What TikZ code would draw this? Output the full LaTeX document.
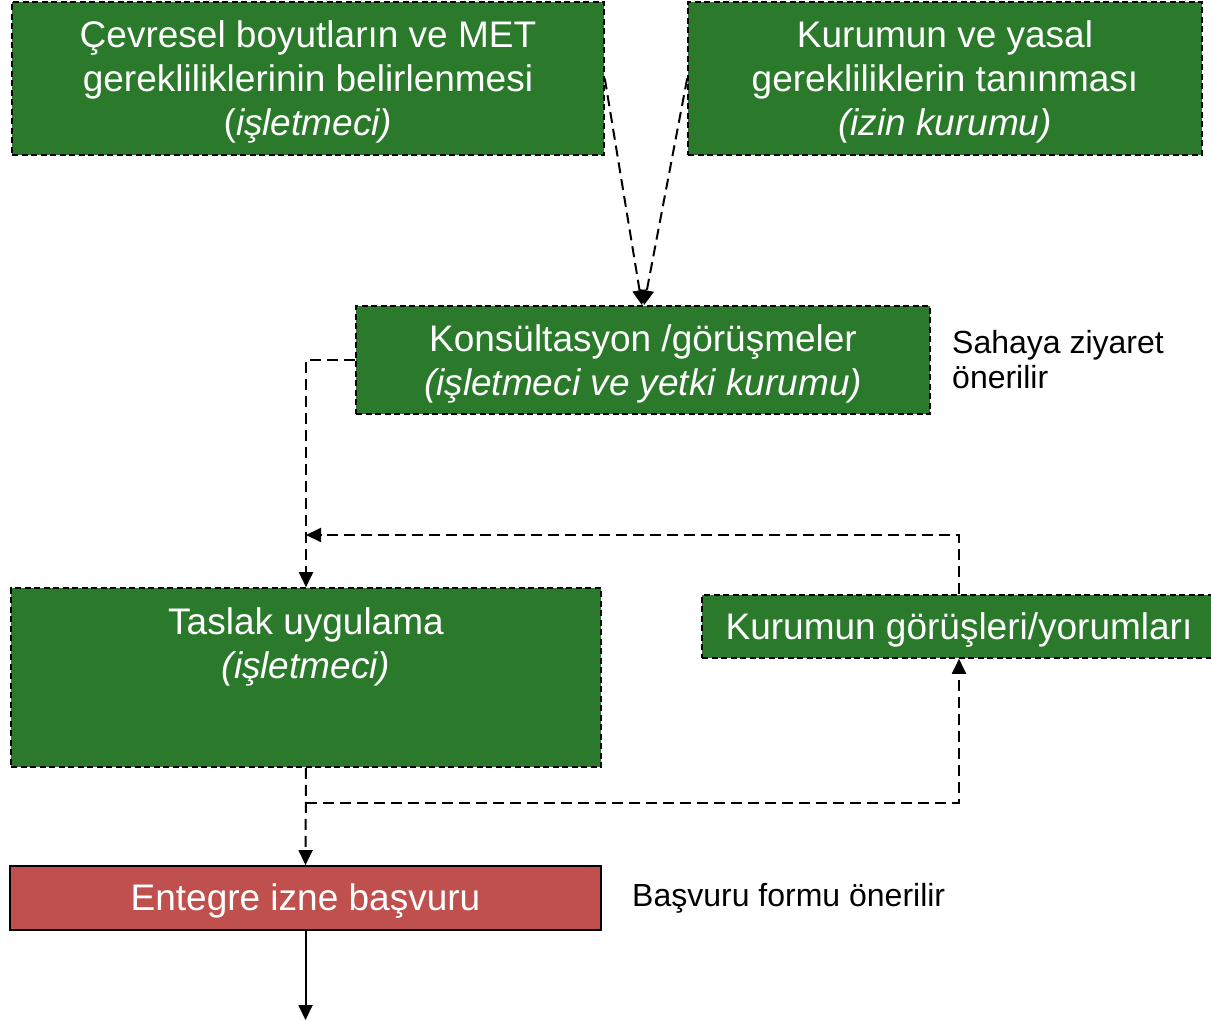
\documentclass[tikz,border=0pt]{standalone}
\usepackage{fontspec}
\setmainfont{Liberation Sans}
\usetikzlibrary{arrows.meta}
\definecolor{boxgreen}{RGB}{43,122,43}
\definecolor{boxred}{RGB}{192,80,77}
\begin{document}
\begin{tikzpicture}[x=1pt,y=-1pt,
  boxtext/.style={text=white, align=center, inner sep=0pt,
    font=\fontsize{37}{44}\selectfont, yshift=-3.5pt},
  greenbox/.style={draw=black, fill=boxgreen, line width=1.6pt,
    dash pattern=on 6pt off 3.5pt, inner sep=0pt},
  redbox/.style={draw=black, fill=boxred, line width=1.8pt, inner sep=0pt},
  note/.style={anchor=west, align=left, inner sep=0pt,
    font=\fontsize{32}{35}\selectfont},
  tip/.style={-{Triangle[length=15pt,width=14pt]}},
  flow/.style={tip, line width=2pt, dash pattern=on 11pt off 6pt},
  solidflow/.style={tip, line width=2pt}
]
\useasboundingbox (0,0) rectangle (1211,1022);

% boxes, each with its caption set as a centred label
\node[greenbox, minimum width=592pt, minimum height=153pt,
  label={[boxtext]center:{Çevresel boyutların ve MET\\gerekliliklerinin belirlenmesi\\(\textit{işletmeci)}}}]
  (A) at (308,78.5) {};
\node[greenbox, minimum width=514pt, minimum height=153pt,
  label={[boxtext]center:{Kurumun ve yasal\\gerekliliklerin tanınması\\\textit{(izin kurumu)}}}]
  (B) at (945,78.5) {};
\node[greenbox, minimum width=574pt, minimum height=108pt,
  label={[boxtext]center:{Konsültasyon /görüşmeler\\\textit{(işletmeci ve yetki kurumu)}}}]
  (C) at (643,360) {};
\node[greenbox, minimum width=590pt, minimum height=179pt] (D) at (306,677.5) {};
\node[boxtext] (Dt) at (306,643) {Taslak uygulama\\\textit{(işletmeci)}};
\node[greenbox, minimum width=514pt, minimum height=63pt,
  label={[boxtext]center:{Kurumun görüşleri/yorumları}}]
  (E) at (959,626.5) {};
\node[redbox, minimum width=591pt, minimum height=64pt,
  label={[boxtext]center:{Entegre izne başvuru}}]
  (F) at (305.5,898) {};

% side notes
\node[note] (n1) at (952,360) {Sahaya ziyaret\\önerilir};
\node[note] (n2) at (632,898) {Başvuru formu önerilir};

% junction points of the feedback loop
\coordinate (j1) at (306,535);
\coordinate (j2) at (306,803);
\coordinate (out) at (305.5,1020);

% connectors
\draw[flow] (A.east) -- ([xshift=-1pt]C.north);
\draw[flow] (B.west) -- ([xshift=1pt]C.north);
\draw[flow] (C.west) -| (D.north);
\draw[flow] (E.north) |- (j1);
\draw[flow] (D.south) -- (F.north);
\draw[flow] (j2) -| (E.south);
\draw[solidflow] (F.south) -- (out);
\end{tikzpicture}
\end{document}
